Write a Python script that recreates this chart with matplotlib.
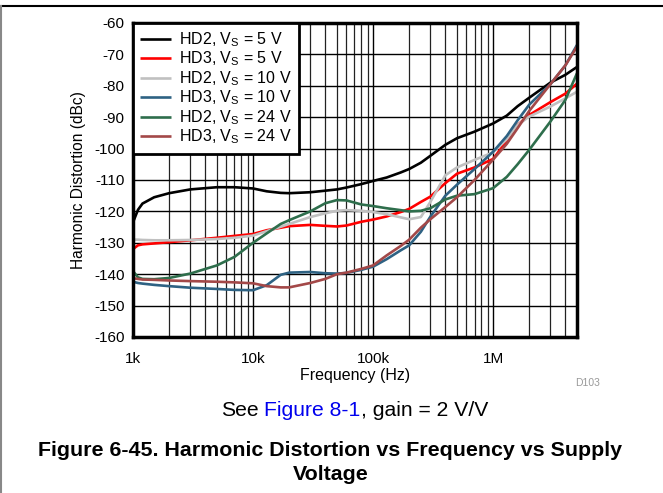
import matplotlib
matplotlib.use('Agg')
import matplotlib.pyplot as plt
from matplotlib.ticker import LogLocator, NullFormatter
from matplotlib.lines import Line2D

plt.rcParams['font.family'] = 'Liberation Sans'
plt.rcParams['mathtext.fontset'] = 'custom'
plt.rcParams['mathtext.rm'] = 'Liberation Sans'
plt.rcParams['mathtext.it'] = 'Liberation Sans:italic'
plt.rcParams['axes.unicode_minus'] = False

# frequencies (Hz) at which the curves were read
freq = [1e3, 1.1e3, 1.2e3, 1.5e3, 2e3, 3e3, 5e3, 7e3, 10e3, 13e3, 17e3, 20e3,
        30e3, 40e3, 50e3, 60e3, 80e3, 100e3, 130e3, 170e3, 200e3, 250e3,
        300e3, 400e3, 500e3, 700e3, 1e6, 1.3e6, 1.6e6, 2e6, 3e6, 4e6, 5e6]

hd2_5v = [-123.5, -119.5, -117.5, -115.5, -114.2, -113.0, -112.3, -112.3, -112.7, -113.6, -114.1, -114.2,
          -113.9, -113.4, -113.0, -112.4, -111.3, -110.3, -109.2, -107.6, -106.5, -104.5,
          -102.3, -98.8, -96.7, -94.6, -92.0, -89.5, -86.5, -83.8, -79.0, -76.5, -74.0]
hd3_5v = [-132.0, -130.8, -130.5, -130.2, -129.8, -129.2, -128.4, -127.8, -127.2, -126.0, -125.2, -124.7,
          -124.3, -124.6, -124.8, -124.5, -123.3, -122.6, -121.6, -120.2, -119.2, -117.0,
          -115.3, -111.0, -108.0, -106.0, -103.3, -97.5, -92.5, -89.3, -85.2, -82.5, -79.3]
hd2_10v = [-129.0, -129.0, -129.1, -129.2, -129.2, -129.1, -128.8, -128.4, -127.7, -126.3, -124.9, -124.0,
           -121.8, -120.6, -119.8, -119.6, -119.8, -120.2, -120.9, -121.9, -122.5, -121.8,
           -117.0, -108.5, -106.0, -103.6, -101.2, -97.0, -92.5, -89.8, -86.6, -84.0, -81.9]
hd3_10v = [-142.4, -142.8, -143.0, -143.4, -143.8, -144.3, -144.7, -145.0, -145.1, -143.5, -140.2, -139.5,
           -139.3, -139.7, -139.8, -139.6, -138.6, -137.6, -135.2, -132.4, -130.8, -126.5,
           -121.7, -115.0, -111.5, -106.5, -101.0, -96.0, -91.0, -86.0, -79.5, -73.5, -67.0]
hd2_24v = [-139.0, -141.0, -141.5, -141.6, -141.2, -139.8, -137.2, -134.5, -130.0, -127.0, -124.0, -122.8,
           -120.0, -117.4, -116.4, -116.5, -117.8, -118.3, -119.0, -119.6, -120.0, -119.8,
           -119.0, -116.2, -115.0, -114.5, -112.6, -109.0, -105.0, -100.4, -91.4, -84.5, -76.0]
hd3_24v = [-141.3, -141.5, -141.7, -141.8, -142.0, -142.2, -142.4, -142.6, -142.9, -143.8, -144.2, -144.2,
           -142.8, -141.5, -140.0, -139.5, -138.3, -137.2, -134.0, -131.0, -129.0, -125.2,
           -122.5, -118.6, -115.5, -110.0, -103.5, -98.5, -93.5, -88.0, -79.5, -73.5, -67.5]

labels = [r'HD2, V$_\mathrm{S}$ = 5 V', r'HD3, V$_\mathrm{S}$ = 5 V',
          r'HD2, V$_\mathrm{S}$ = 10 V', r'HD3, V$_\mathrm{S}$ = 10 V',
          r'HD2, V$_\mathrm{S}$ = 24 V', r'HD3, V$_\mathrm{S}$ = 24 V']
colors = ['black', '#ff0000', '#c0c0c0', '#2e6283', '#2e6e4c', '#a34848']
series = [hd2_5v, hd3_5v, hd2_10v, hd3_10v, hd2_24v, hd3_24v]

xticks = [1e3, 1e4, 1e5, 1e6]
xticklabels = ['1k', '10k', '100k', '1M']
yticks = list(range(-160, -59, 10))

W, H = 663, 493
fig = plt.figure(figsize=(W / 100, H / 100), dpi=100)
ax = fig.add_axes([133 / W, 1 - 337 / H, (577 - 133) / W, (337 - 23) / H])

for vals, c, lab in zip(series, colors, labels):
    ax.plot(freq, vals, color=c, lw=1.9, label=lab, solid_capstyle='butt')

ax.set_xscale('log')
ax.set_xlim(1e3, 5e6)
ax.set_ylim(-160, -60)
ax.set_xticks(xticks)
ax.set_xticklabels(xticklabels)
ax.xaxis.set_minor_locator(LogLocator(base=10, subs=range(2, 10)))
ax.xaxis.set_minor_formatter(NullFormatter())
ax.set_yticks(yticks)
ax.tick_params(which='both', length=0, labelsize=11)
ax.tick_params(axis='x', pad=10.5)
ax.tick_params(axis='y', pad=6)
ax.grid(True, which='major', color='black', lw=1.0)
ax.grid(True, which='minor', axis='x', color='#222222', lw=0.9)
ax.set_axisbelow(True)
for s in ax.spines.values():
    s.set_linewidth(2.5)

ax.set_xlabel('Frequency (Hz)', fontsize=11.5, labelpad=2)
ax.set_ylabel('Harmonic Distortion (dBc)', fontsize=11.2, labelpad=6)

leg = ax.legend(loc='upper left', bbox_to_anchor=(0, 1), borderaxespad=0,
                fontsize=11.5, frameon=True, fancybox=False, labelspacing=0.05,
                handlelength=1.9, handletextpad=0.55, borderpad=0.45)
leg.get_frame().set_edgecolor('black')
leg.get_frame().set_linewidth(2.0)
leg.get_frame().set_alpha(1)

fig.text(588 / W, 1 - 383 / H, 'D103', ha='center', va='center', fontsize=7.5, color='#999999')

# caption with blue cross-reference
renderer = fig.canvas.get_renderer()
cap_size = 15.2
y_cap = 1 - 410 / H


def text_width(s):
    t = fig.text(0, 0, s, fontsize=cap_size)
    w = t.get_window_extent(renderer).width
    t.remove()
    return w


x0 = 221.0
x_blue = x0 + text_width('See F') - text_width('F')
x_rest = x0 + text_width('See Figure 8-1,') - text_width(',')
fig.text(x0 / W, y_cap, 'See', fontsize=cap_size, va='center', ha='left')
fig.text(x_blue / W, y_cap, 'Figure 8-1', fontsize=cap_size, va='center', ha='left', color='#0000ee')
fig.text(x_rest / W, y_cap, ', gain = 2 V/V', fontsize=cap_size, va='center', ha='left')

fig.text(330 / W, 1 - 451 / H, 'Figure 6-45. Harmonic Distortion vs Frequency vs Supply',
         ha='center', va='center', fontsize=15.4, fontweight='bold')
fig.text(331 / W, 1 - 474 / H, 'Voltage', ha='center', va='center', fontsize=15.4, fontweight='bold')

# page border lines
fig.add_artist(Line2D([0, 1], [1 - 6 / H, 1 - 6 / H], transform=fig.transFigure, color='black', lw=1.5))
fig.add_artist(Line2D([0.8 / W, 0.8 / W], [0, 1 - 6 / H], transform=fig.transFigure, color='#888888', lw=1.5))

fig.savefig('out.png', dpi=100)
